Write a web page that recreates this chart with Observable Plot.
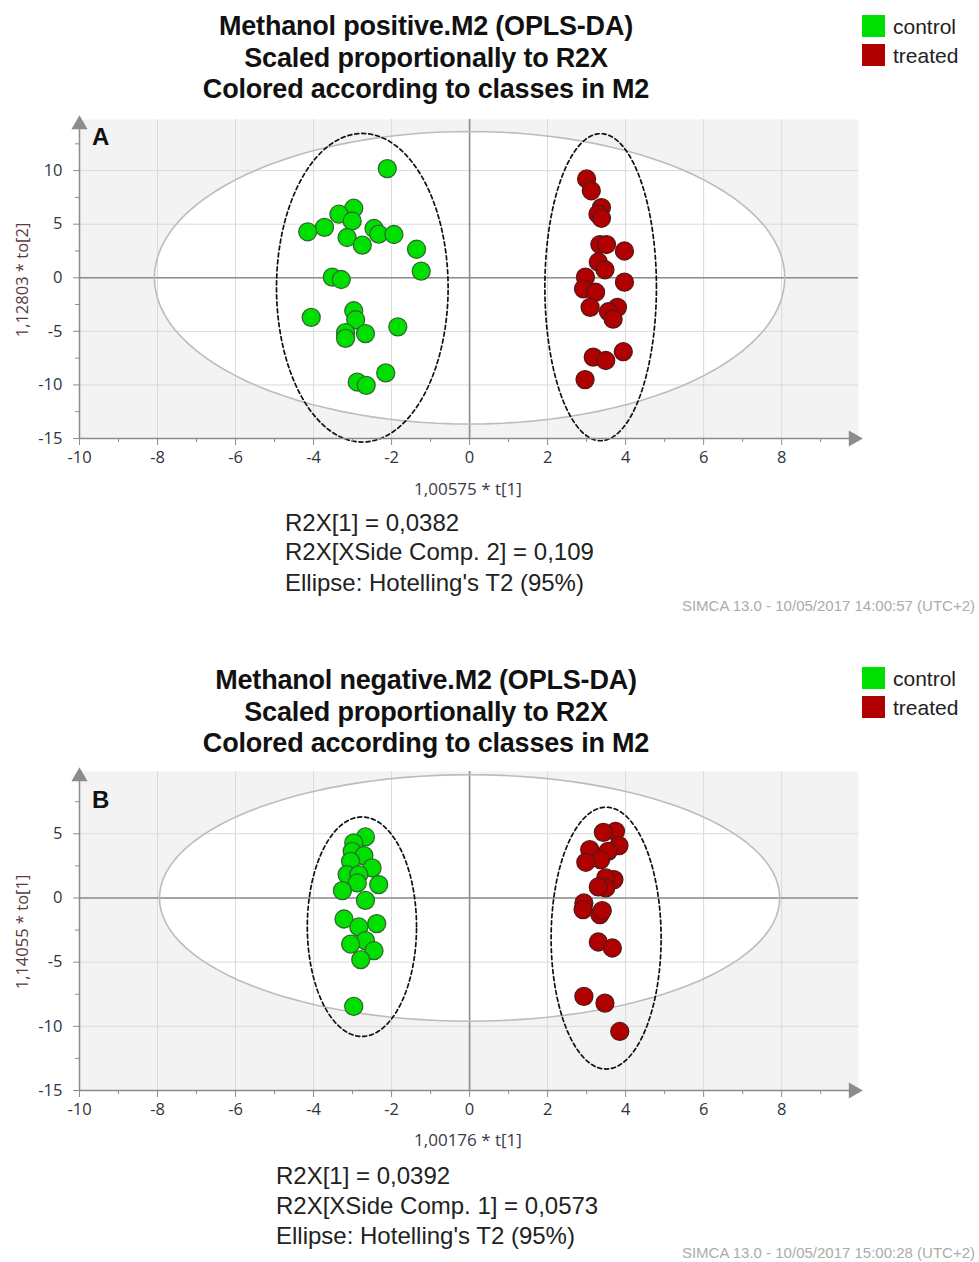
<!DOCTYPE html>
<html><head><meta charset="utf-8">
<script src="https://cdn.jsdelivr.net/npm/d3@7"></script>
<script src="https://cdn.jsdelivr.net/npm/@observablehq/plot@0.6"></script>
<style>
body{margin:0;background:#fff;}
#page{position:relative;width:979px;height:1262px;overflow:hidden;font-family:"Liberation Sans",Arial,sans-serif;color:#111;}
.t{position:absolute;white-space:nowrap;line-height:1;}
.title{font-weight:bold;font-size:27px;text-align:center;width:600px;letter-spacing:-0.2px;}
.info{font-size:24px;color:#222;}
.leg{font-size:21px;color:#222;}
.sw{position:absolute;width:23px;height:22px;}
.foot{font-size:15px;color:#ababab;right:4px;}
.panel{font-weight:bold;font-size:24px;}
.ylab{font-family:"Open Sans",sans-serif;font-size:16.5px;color:#5b3c3c;transform:translate(-50%,-50%) rotate(-90deg);}
.xlab{font-family:"Open Sans",sans-serif;font-size:17px;color:#3a3a4a;transform:translate(-50%,-50%);}
svg{position:absolute;left:0;}
</style></head><body><div id="page"></div>
<script>
// ---- tick values ----
const xTicks = [-10, -8, -6, -4, -2, 0, 2, 4, 6, 8];
const xMinorTicks = [-9, -7, -5, -3, -1, 1, 3, 5, 7, 9];
const yTicksA = [-15, -10, -5, 0, 5, 10];
const yMinorTicksA = [-12.5, -7.5, -2.5, 2.5, 7.5, 12.5];
const yTicksB = [-15, -10, -5, 0, 5];
const yMinorTicksB = [-12.5, -7.5, -2.5, 2.5, 7.5];

// ---- classes ----
const classes = ["control", "treated"];
const classFill = ["#00e000", "#b00000"];
const classStroke = ["#2e6a2e", "#5a1616"];

// ---- Panel A scores (t[1], to[2]) ----
const controlA_x = [-2.11, -2.97, -3.35, -3.01, -3.72, -4.15, -2.45, -2.33, -1.94, -3.14, -2.75, -1.36, -1.24, -3.52, -3.29, -4.06, -2.97, -2.92, -1.84, -2.67, -3.18, -3.18, -2.15, -2.88, -2.65];
const controlA_y = [10.19, 6.49, 5.93, 5.3, 4.7, 4.29, 4.6, 4.07, 4.04, 3.76, 3.04, 2.66, 0.62, 0.06, -0.16, -3.7, -3.08, -3.92, -4.58, -5.21, -5.12, -5.65, -8.88, -9.73, -10.04];
const treatedA_x = [3.0, 3.12, 3.38, 3.29, 3.38, 3.34, 3.51, 3.97, 3.3, 3.47, 2.97, 3.97, 2.92, 3.23, 3.09, 3.79, 3.56, 3.68, 3.94, 3.17, 3.49, 2.96];
const treatedA_y = [9.22, 8.12, 6.55, 5.95, 5.55, 3.1, 3.1, 2.5, 1.47, 0.75, 0.06, -0.41, -1.03, -1.35, -2.76, -2.76, -3.17, -3.86, -6.9, -7.4, -7.72, -9.5];

// ---- Panel B scores (t[1], to[1]) ----
const controlB_x = [-2.67, -2.97, -3.01, -2.71, -3.05, -2.5, -3.14, -2.84, -2.88, -2.33, -3.26, -2.67, -3.22, -2.38, -2.84, -2.67, -3.05, -2.45, -2.79, -2.97];
const controlB_y = [4.75, 4.29, 3.63, 3.3, 2.85, 2.34, 1.82, 1.82, 1.17, 1.04, 0.57, -0.19, -1.64, -2.0, -2.26, -3.33, -3.59, -4.11, -4.81, -8.45];
const treatedB_x = [3.74, 3.43, 3.83, 3.08, 3.55, 3.36, 2.98, 3.7, 3.49, 3.49, 3.3, 2.93, 2.91, 3.34, 3.4, 3.3, 3.66, 2.93, 3.47, 3.85];
const treatedB_y = [5.19, 5.11, 4.08, 3.76, 3.63, 2.98, 2.78, 1.43, 1.56, 0.78, 0.86, -0.39, -0.91, -1.3, -0.99, -3.43, -3.9, -7.67, -8.19, -10.4];

// ---- ellipses: [centre x, centre y, radius x, radius y] ----
const hotellingA = [0, 0, 8.08, 13.65];
const groupEllipsesA = [[-2.75, -0.93, 2.2, 14.4], [3.36, -0.88, 1.43, 14.33]];
const hotellingB = [0, 0, 7.95, 9.6];
const groupEllipsesB = [[-2.76, -2.24, 1.4, 8.55], [3.5, -3.13, 1.41, 10.2]];

const xDomain = [-10, 9.97];
const yDomainA = [-15, 14.77];
const yDomainB = [-15, 9.85];

function ellipsePoints([cx, cy, rx, ry]) {
  return d3.range(0, 360, 3).map(a => {
    const t = a * Math.PI / 180;
    return {x: cx + rx * Math.cos(t), y: cy + ry * Math.sin(t)};
  });
}
function table(xs, ys, cls) { return xs.map((x, i) => ({x, y: ys[i], cls})); }

function panel({points, hotelling, groups, yDomain, yTicks, yMinor}) {
  const hot = ellipsePoints(hotelling);
  const axisFont = {fontFamily: "Open Sans, sans-serif", fontSize: 16.5, fill: "#2f3540", label: null, tickFormat: d => String(d)};
  return Plot.plot({
    width: 979, height: 400,
    marginLeft: 79, marginRight: 121, marginTop: 19, marginBottom: 62,
    x: {domain: xDomain},
    y: {domain: yDomain},
    color: {domain: classes, range: classFill},
    style: {background: "transparent", overflow: "visible"},
    marks: [
      Plot.frame({fill: "#f3f3f3", stroke: "none"}),
      Plot.line(hot, {x: "x", y: "y", fill: "white", stroke: "none", curve: "linear-closed"}),
      Plot.gridX(xTicks, {stroke: "#dadada", strokeOpacity: 1}),
      Plot.gridY(yTicks, {stroke: "#dadada", strokeOpacity: 1}),
      Plot.ruleX([0], {stroke: "#8c8c8c", strokeWidth: 1.6}),
      Plot.ruleY([0], {stroke: "#8c8c8c", strokeWidth: 1.6}),
      Plot.line(hot, {x: "x", y: "y", stroke: "#bcbcbc", strokeWidth: 1.6, curve: "linear-closed"}),
      ...groups.map(g => Plot.line(ellipsePoints(g), {x: "x", y: "y", stroke: "#111", strokeWidth: 1.7, strokeDasharray: "4,3", curve: "linear-closed"})),
      Plot.dot(points, {x: "x", y: "y", r: 9, fill: "cls", stroke: d => classStroke[classes.indexOf(d.cls)], strokeWidth: 1.3}),
      Plot.ruleX([xDomain[0]], {stroke: "#8c8c8c", strokeWidth: 1.5}),
      Plot.ruleY([yDomain[0]], {stroke: "#8c8c8c", strokeWidth: 1.5}),
      Plot.dot([{x: xDomain[0], y: yDomain[1]}], {x: "x", y: "y", symbol: "triangle", r: 6, fill: "#8c8c8c", stroke: "none", dy: 5}),
      Plot.dot([{x: xDomain[1], y: yDomain[0]}], {x: "x", y: "y", symbol: "triangle", r: 6, fill: "#8c8c8c", stroke: "none", rotate: 90, dx: -5}),
      Plot.axisX(xTicks, {anchor: "bottom", tickSize: 7, tickPadding: 6, stroke: "#8c8c8c", ...axisFont}),
      Plot.axisX(xMinorTicks, {anchor: "bottom", tickSize: 4, stroke: "#8c8c8c", fill: "none", label: null}),
      Plot.axisY(yTicks, {anchor: "left", tickSize: 6, tickPadding: 11, stroke: "#8c8c8c", ...axisFont}),
      Plot.axisY(yMinor, {anchor: "left", tickSize: 4, stroke: "#8c8c8c", fill: "none", label: null})
    ]
  });
}

const page = document.getElementById("page");
function addText(cls, text, style) {
  const d = document.createElement("div");
  d.className = "t " + cls;
  d.textContent = text;
  Object.assign(d.style, style);
  page.appendChild(d);
}
function addSwatch(color, left, top) {
  const d = document.createElement("div");
  d.className = "sw";
  Object.assign(d.style, {left: left + "px", top: top + "px", background: color});
  page.appendChild(d);
}

// Panel A
const svgA = panel({
  points: [...table(controlA_x, controlA_y, "control"), ...table(treatedA_x, treatedA_y, "treated")],
  hotelling: hotellingA, groups: groupEllipsesA, yDomain: yDomainA, yTicks: yTicksA, yMinor: yMinorTicksA
});
svgA.style.top = "100px";
page.appendChild(svgA);

// Panel B
const svgB = panel({
  points: [...table(controlB_x, controlB_y, "control"), ...table(treatedB_x, treatedB_y, "treated")],
  hotelling: hotellingB, groups: groupEllipsesB, yDomain: yDomainB, yTicks: yTicksB, yMinor: yMinorTicksB
});
svgB.style.top = "752px";
page.appendChild(svgB);

const titlesA = ["Methanol positive.M2 (OPLS-DA)", "Scaled proportionally to R2X", "Colored according to classes in M2"];
const titlesB = ["Methanol negative.M2 (OPLS-DA)", "Scaled proportionally to R2X", "Colored according to classes in M2"];
const infoA = ["R2X[1] = 0,0382", "R2X[XSide Comp. 2] = 0,109", "Ellipse: Hotelling's T2 (95%)"];
const infoB = ["R2X[1] = 0,0392", "R2X[XSide Comp. 1] = 0,0573", "Ellipse: Hotelling's T2 (95%)"];

[[titlesA, [13, 45, 76]], [titlesB, [667, 699, 730]]].forEach(([lines, tops]) =>
  lines.forEach((s, i) => addText("title", s, {left: "126px", top: tops[i] + "px"})));
[[infoA, 285, [511, 540, 571]], [infoB, 276, [1164, 1194, 1224]]].forEach(([lines, left, tops]) =>
  lines.forEach((s, i) => addText("info", s, {left: left + "px", top: tops[i] + "px"})));

[[15, 44], [667, 696]].forEach(([t1, t2]) => {
  addSwatch(classFill[0], 862, t1);
  addSwatch(classFill[1], 862, t2);
  addText("leg", classes[0], {left: "893px", top: (t1 + 1) + "px"});
  addText("leg", classes[1], {left: "893px", top: (t2 + 1) + "px"});
});

addText("panel", "A", {left: "92px", top: "125px"});
addText("panel", "B", {left: "92px", top: "788px"});
addText("ylab", "1,12803 * to[2]", {left: "22px", top: "280px"});
addText("ylab", "1,14055 * to[1]", {left: "22px", top: "932px"});
addText("xlab", "1,00575 * t[1]", {left: "468px", top: "488px"});
addText("xlab", "1,00176 * t[1]", {left: "468px", top: "1139px"});
addText("foot", "SIMCA 13.0 - 10/05/2017 14:00:57 (UTC+2)", {top: "598px"});
addText("foot", "SIMCA 13.0 - 10/05/2017 15:00:28 (UTC+2)", {top: "1245px"});
</script>
</body></html>
